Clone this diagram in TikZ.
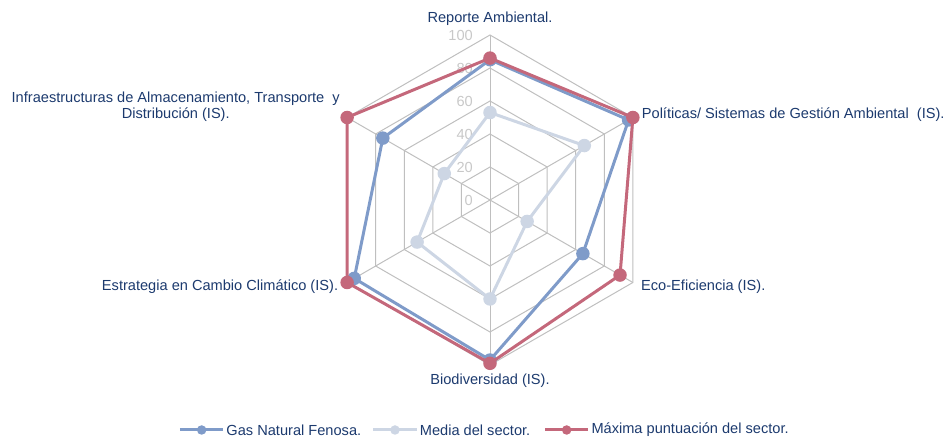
\documentclass[tikz,border=0pt]{standalone}
\usepackage{fontspec}
\setmainfont{Liberation Sans}
\usepackage{tikz}

\definecolor{gascol}{RGB}{127,155,201}
\definecolor{medcol}{RGB}{205,214,228}
\definecolor{maxcol}{RGB}{196,104,123}
\definecolor{gridcol}{RGB}{191,191,191}
\definecolor{tickcol}{RGB}{200,200,200}
\definecolor{labcol}{RGB}{28,58,110}

\begin{document}
\begin{tikzpicture}[x=1pt,y=1pt,
		gridline/.style={draw=gridcol,line width=1pt},
		serie/.style={line width=3pt,line join=round},
		dot/.style={circle,inner sep=0pt,minimum size=13.5pt},
		legdot/.style={circle,inner sep=0pt,minimum size=9.5pt},
		axlabel/.style={text=labcol,inner sep=0pt,font=\fontsize{14.6}{16}\selectfont},
		ticklabel/.style={text=tickcol,inner sep=0pt,anchor=east,font=\fontsize{14.6}{16}\selectfont},
		legtext/.style={text=labcol,inner sep=0pt,inner xsep=3pt,anchor=west,font=\fontsize{14.6}{16}\selectfont}]
				\useasboundingbox (-490,-238) rectangle (460,200);
				\begin{scope}[x=1.65pt,y=1.65pt]
					\foreach \r in {20,40,...,100}
						\draw[gridline] (90:\r) -- (30:\r) -- (-30:\r) -- (-90:\r) -- (-150:\r) -- (150:\r) -- cycle;
					\foreach \i in {1,...,6}
						\draw[gridline] (0,0) -- ({150-60*\i}:100);
					\foreach \r in {0,20,...,100}
						\node[ticklabel] (tick\r) at ([xshift=-17pt]0,\r) {\r};
					\foreach \v [count=\i] in {53,66,26,60,51,32}
						\coordinate (med\i) at ({150-60*\i}:\v);
					\foreach \v [count=\i] in {85,97,65,97,95,75}
						\coordinate (gas\i) at ({150-60*\i}:\v);
					\foreach \v [count=\i] in {86,100,91,99,100,100}
						\coordinate (max\i) at ({150-60*\i}:\v);
				\end{scope}
				\draw[serie,medcol] (med1) -- (med2) -- (med3) -- (med4) -- (med5) -- (med6) -- cycle;
				\foreach \i in {1,...,6}
					\node[dot,fill=medcol] (medm\i) at (med\i) {};
				\draw[serie,gascol] (gas1) -- (gas2) -- (gas3) -- (gas4) -- (gas5) -- (gas6) -- cycle;
				\foreach \i in {1,...,6}
					\node[dot,fill=gascol] (gasm\i) at (gas\i) {};
				\draw[serie,maxcol] (max1) -- (max2) -- (max3) -- (max4) -- (max5) -- (max6) -- cycle;
				\foreach \i in {1,...,6}
					\node[dot,fill=maxcol] (maxm\i) at (max\i) {};
				\node[axlabel] (reporte) at (0,181) {Reporte Ambiental.};
				\node[axlabel,anchor=west] (politicas) at (151.7,85) {Políticas/ Sistemas de Gestión Ambiental\ \ (IS).};
				\node[axlabel,anchor=west] (eco) at (151,-87) {Eco-Eficiencia (IS).};
				\node[axlabel] (biodiv) at (0,-181) {Biodiversidad (IS).};
				\node[axlabel,anchor=east] (estrategia) at (-151.7,-86.7) {Estrategia en Cambio Climático (IS).};
				\node[axlabel,anchor=east,align=center] (infra) at (-150,93.3) {Infraestructuras de Almacenamiento, Transporte\ \ y\\Distribución (IS).};
				\coordinate (gasA) at (-310,-230);
				\node[legtext] (gasT) at (-266.7,-230) {Gas Natural Fenosa.};
				\draw[serie,gascol] (gasA) -- node[legdot,fill=gascol] (gasL) {} (gasT.west);
				\coordinate (medA) at (-116.7,-230);
				\node[legtext] (medT) at (-73.3,-230) {Media del sector.};
				\draw[serie,medcol] (medA) -- node[legdot,fill=medcol] (medL) {} (medT.west);
				\coordinate (maxA) at (55,-230);
				\node[legtext] (maxT) at (98.3,-230) {Máxima puntuación del sector.};
				\draw[serie,maxcol] (maxA) -- node[legdot,fill=maxcol] (maxL) {} (maxT.west);
			\end{tikzpicture}
\end{document}
